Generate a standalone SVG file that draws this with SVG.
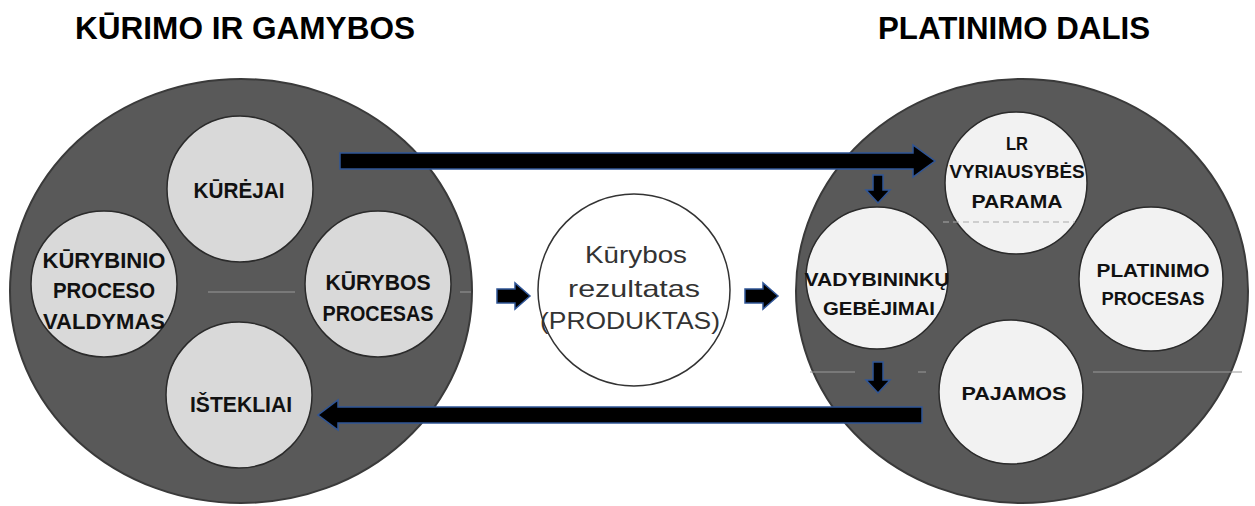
<svg xmlns="http://www.w3.org/2000/svg" width="1255" height="506" viewBox="0 0 1255 506">
<style>
.title{font-family:"Liberation Sans",Arial,sans-serif;font-weight:bold;font-size:32px;fill:#000}
.big{fill:#595959;stroke:#3a3a3a;stroke-width:2}
.inL{fill:#d9d9d9;stroke:#2b2b2b;stroke-width:1.5}
.inR{fill:#f2f2f2;stroke:#2b2b2b;stroke-width:1.5}
.lbl{font-family:"Liberation Sans",Arial,sans-serif;font-weight:bold;font-size:22px;fill:#111;text-anchor:middle}
.lblS{font-family:"Liberation Sans",Arial,sans-serif;font-weight:bold;font-size:19px;fill:#111;text-anchor:middle}
.ctr{font-family:"Liberation Sans",Arial,sans-serif;font-size:24px;fill:#333;text-anchor:middle}
.arr{fill:#000;stroke:#2f5597;stroke-width:1.5;stroke-linejoin:miter}
.faint{stroke:#9a9a9a;stroke-width:1;fill:none}
</style>
<rect width="1255" height="506" fill="#fff"/>
<g id="titles">
<text class="title" x="75" y="39" textLength="340" lengthAdjust="spacingAndGlyphs">KŪRIMO IR GAMYBOS</text>
<text class="title" x="878" y="39" textLength="272" lengthAdjust="spacingAndGlyphs">PLATINIMO DALIS</text>
</g>
<g id="left-group">
<ellipse class="big" cx="241" cy="291" rx="231" ry="212"/>
<line class="faint" x1="208" y1="292" x2="295" y2="292"/>
<line class="faint" x1="460" y1="292" x2="471" y2="292"/>
</g>
<g id="right-group">
<ellipse class="big" cx="1022" cy="291" rx="226" ry="212"/>
<line class="faint" x1="810" y1="372" x2="855" y2="372"/>
<line class="faint" x1="918" y1="372" x2="926" y2="372"/>
<line class="faint" x1="1093" y1="372" x2="1242" y2="372"/>
</g>
<g id="node-kurejai">
<circle class="inL" cx="240" cy="189" r="73"/>
<text class="lbl" x="239" y="198" textLength="91" lengthAdjust="spacingAndGlyphs">KŪRĖJAI</text>
</g>
<g id="node-kurybinio">
<circle class="inL" cx="104" cy="284" r="73"/>
<text class="lbl" x="104" y="268" textLength="123" lengthAdjust="spacingAndGlyphs">KŪRYBINIO</text>
<text class="lbl" x="104" y="298" textLength="102" lengthAdjust="spacingAndGlyphs">PROCESO</text>
<text class="lbl" x="104" y="329" textLength="122" lengthAdjust="spacingAndGlyphs">VALDYMAS</text>
</g>
<g id="node-kurybos-procesas">
<circle class="inL" cx="378" cy="284" r="73"/>
<text class="lbl" x="378" y="290" textLength="105" lengthAdjust="spacingAndGlyphs">KŪRYBOS</text>
<text class="lbl" x="378" y="321" textLength="111" lengthAdjust="spacingAndGlyphs">PROCESAS</text>
</g>
<g id="node-istekliai">
<circle class="inL" cx="239" cy="395" r="73"/>
<text class="lbl" x="241" y="412" textLength="102" lengthAdjust="spacingAndGlyphs">IŠTEKLIAI</text>
</g>
<g id="node-produktas">
<circle cx="634" cy="290" r="96" fill="#fff" stroke="#333" stroke-width="1.5"/>
<text class="ctr" x="636" y="263" textLength="102" lengthAdjust="spacingAndGlyphs">Kūrybos</text>
<text class="ctr" x="634" y="297" textLength="132" lengthAdjust="spacingAndGlyphs">rezultatas</text>
<text class="ctr" x="630" y="329" textLength="180" lengthAdjust="spacingAndGlyphs">(PRODUKTAS)</text>
</g>
<g id="node-lr-parama">
<circle class="inR" cx="1016" cy="183" r="71"/>
<line x1="943" y1="222" x2="1075" y2="222" stroke="#aaa" stroke-width="1" stroke-dasharray="6,4"/>
<text class="lblS" x="1017" y="150" textLength="22" lengthAdjust="spacingAndGlyphs">LR</text>
<text class="lblS" x="1017" y="178" textLength="135" lengthAdjust="spacingAndGlyphs">VYRIAUSYBĖS</text>
<text class="lblS" x="1017" y="208" textLength="91" lengthAdjust="spacingAndGlyphs">PARAMA</text>
</g>
<g id="node-vadybininku">
<circle class="inR" cx="877" cy="278" r="71"/>
<text class="lblS" x="877" y="286" textLength="145" lengthAdjust="spacingAndGlyphs">VADYBININKŲ</text>
<text class="lblS" x="879" y="315" textLength="112" lengthAdjust="spacingAndGlyphs">GEBĖJIMAI</text>
</g>
<g id="node-platinimo">
<circle class="inR" cx="1151" cy="279" r="72"/>
<text class="lblS" x="1153" y="277" textLength="113" lengthAdjust="spacingAndGlyphs">PLATINIMO</text>
<text class="lblS" x="1153" y="305" textLength="103" lengthAdjust="spacingAndGlyphs">PROCESAS</text>
</g>
<g id="node-pajamos">
<circle class="inR" cx="1011" cy="392" r="72"/>
<text class="lblS" x="1014" y="400" textLength="105" lengthAdjust="spacingAndGlyphs">PAJAMOS</text>
</g>
<g id="connectors">
<polygon class="arr" points="340,153 913,153 913,145 935,161 913,177 913,169 340,169"/>
<polygon class="arr" points="922,407 338,407 338,400 318,415 338,430 338,423 922,423"/>
<polygon class="arr" points="497,289 515,289 515,283 530,296 515,309 515,303 497,303"/>
<polygon class="arr" points="745,289 763,289 763,283 778,296 763,309 763,303 745,303"/>
<polygon class="arr" points="873,175 883,175 883,190 890,190 878,203 866,190 873,190"/>
<polygon class="arr" points="873,362 883,362 883,380 890,380 878,393 866,380 873,380"/>
</g>
</svg>
